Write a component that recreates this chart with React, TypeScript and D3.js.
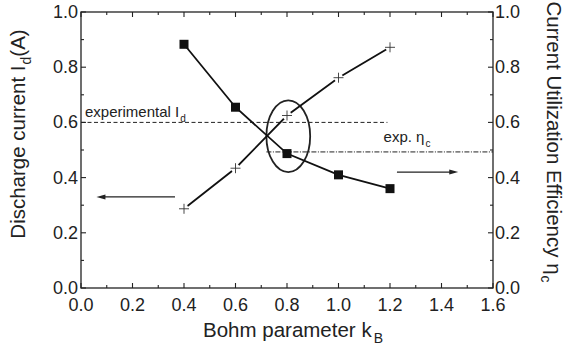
import React, { useRef, useEffect } from 'react';
import * as d3 from 'd3';

// Bohm parameter values
const kB = [0.4, 0.6, 0.8, 1.0, 1.2];
// discharge current Id (A), squares
const dischargeCurrent = [0.883, 0.655, 0.487, 0.41, 0.36];
// current utilization efficiency, crosses
const efficiency = [0.287, 0.434, 0.625, 0.762, 0.872];

const expId = 0.6;
const expEta = 0.493;

const xTicks = [0, 0.2, 0.4, 0.6, 0.8, 1.0, 1.2, 1.4, 1.6];
const yTicks = [0, 0.2, 0.4, 0.6, 0.8, 1.0];

const FONT = 'Arial, "Liberation Sans", Helvetica, sans-serif';

const App = () => {
  const svgRef = useRef<SVGSVGElement>(null);
  const W = 565;
  const H = 349;
  const margin = { top: 12, right: 72, bottom: 61, left: 81 };

  useEffect(() => {
    const svg = d3.select(svgRef.current);
    svg.selectAll('*').remove();

    const x = d3.scaleLinear().domain([0, 1.6]).range([margin.left, W - margin.right]);
    const y = d3.scaleLinear().domain([0, 1.0]).range([H - margin.bottom, margin.top]);

    const fmt = d3.format('.1f');
    const minorX = d3.range(0, 1.61, 0.1);
    const minorY = d3.range(0, 1.01, 0.1);

    // frame
    svg.append('rect')
      .attr('x', x(0)).attr('y', y(1))
      .attr('width', x(1.6) - x(0)).attr('height', y(0) - y(1))
      .attr('fill', 'none').attr('stroke', '#222').attr('stroke-width', 1.3);

    // ticks (inward, all four sides)
    const tk = svg.append('g').attr('stroke', '#222').attr('stroke-width', 1.1);
    minorX.forEach((v, i) => {
      const len = i % 2 === 0 ? 5 : 3;
      tk.append('line').attr('x1', x(v)).attr('x2', x(v)).attr('y1', y(0)).attr('y2', y(0) - len);
      tk.append('line').attr('x1', x(v)).attr('x2', x(v)).attr('y1', y(1)).attr('y2', y(1) + len);
    });
    minorY.forEach((v, i) => {
      const len = i % 2 === 0 ? 5 : 3;
      tk.append('line').attr('y1', y(v)).attr('y2', y(v)).attr('x1', x(0)).attr('x2', x(0) + len);
      tk.append('line').attr('y1', y(v)).attr('y2', y(v)).attr('x1', x(1.6)).attr('x2', x(1.6) - len);
    });

    // tick labels
    const lbl = svg.append('g').attr('font-family', FONT).attr('font-size', 18).attr('fill', '#222');
    xTicks.forEach(v => {
      lbl.append('text').attr('x', x(v)).attr('y', y(0) + 23).attr('text-anchor', 'middle').text(fmt(v));
    });
    yTicks.forEach(v => {
      lbl.append('text').attr('x', x(0) - 3).attr('y', y(v) + 6).attr('text-anchor', 'end').text(fmt(v));
      lbl.append('text').attr('x', x(1.6) + 2).attr('y', y(v) + 6).attr('text-anchor', 'start').text(fmt(v));
    });

    // axis titles
    const xt = svg.append('text').attr('font-family', FONT).attr('font-size', 20.5).attr('fill', '#222')
      .attr('x', x(0.8) + 6).attr('y', y(0) + 49).attr('text-anchor', 'middle');
    xt.append('tspan').text('Bohm parameter k');
    xt.append('tspan').attr('font-size', 14).attr('dx', 2).attr('dy', 6).text('B');

    const yl = svg.append('text').attr('font-family', FONT).attr('font-size', 20.5).attr('fill', '#222')
      .attr('transform', `translate(25, 134) rotate(-90)`).attr('text-anchor', 'middle');
    yl.append('tspan').text('Discharge current I');
    yl.append('tspan').attr('font-size', 14).attr('dx', 1).attr('dy', 6).text('d');
    yl.append('tspan').attr('dy', -6).text('(A)');

    const yr = svg.append('text').attr('font-family', FONT).attr('font-size', 20.5).attr('fill', '#222')
      .attr('transform', `translate(547, 142) rotate(90)`).attr('text-anchor', 'middle');
    yr.append('tspan').text('Current Utilization Efficiency η');
    yr.append('tspan').attr('font-size', 14).attr('dx', 1).attr('dy', 6).text('c');

    // experimental reference lines
    svg.append('line')
      .attr('x1', x(0)).attr('x2', x(1.19)).attr('y1', y(expId)).attr('y2', y(expId))
      .attr('stroke', '#222').attr('stroke-width', 1).attr('stroke-dasharray', '4,2.5');
    svg.append('line')
      .attr('x1', x(0.72)).attr('x2', x(1.6)).attr('y1', y(expEta)).attr('y2', y(expEta))
      .attr('stroke', '#222').attr('stroke-width', 1).attr('stroke-dasharray', '5,1.5,1,1.5');

    const t1 = svg.append('text').attr('font-family', FONT).attr('font-size', 15).attr('fill', '#222')
      .attr('x', x(0) + 4).attr('y', y(expId) - 5);
    t1.append('tspan').text('experimental I');
    t1.append('tspan').attr('font-size', 10).attr('dx', 1).attr('dy', 5).text('d');

    const t2 = svg.append('text').attr('font-family', FONT).attr('font-size', 15).attr('fill', '#222')
      .attr('x', x(1.175)).attr('y', y(expEta) - 10);
    t2.append('tspan').text('exp. η');
    t2.append('tspan').attr('font-size', 10).attr('dx', 1).attr('dy', 5).text('c');

    // ellipse around crossing
    svg.append('ellipse')
      .attr('cx', x(0.805)).attr('cy', y(0.55))
      .attr('rx', x(0.085) - x(0)).attr('ry', y(0) - y(0.13))
      .attr('fill', 'none').attr('stroke', '#222').attr('stroke-width', 1.8);

    // arrows
    const arrow = (xa: number, xb: number, yv: number) => {
      const x1 = x(xa), x2 = x(xb), yy = y(yv);
      const dir = Math.sign(x2 - x1);
      svg.append('line').attr('x1', x1).attr('x2', x2 - dir * 6).attr('y1', yy).attr('y2', yy)
        .attr('stroke', '#222').attr('stroke-width', 1.2);
      svg.append('path')
        .attr('d', `M${x2},${yy} L${x2 - dir * 9},${yy - 2.5} L${x2 - dir * 9},${yy + 2.5} Z`)
        .attr('fill', '#222');
    };
    arrow(0.365, 0.06, 0.33);
    arrow(1.227, 1.465, 0.42);

    // series
    const idPts = kB.map((k, i) => [k, dischargeCurrent[i]] as [number, number]);
    const etaPts = kB.map((k, i) => [k, efficiency[i]] as [number, number]);
    const line = d3.line<[number, number]>().x(d => x(d[0])).y(d => y(d[1]));

    svg.append('path').attr('d', line(idPts)).attr('fill', 'none').attr('stroke', '#111').attr('stroke-width', 1.8);
    svg.append('path').attr('d', line(etaPts)).attr('fill', 'none').attr('stroke', '#111').attr('stroke-width', 1.8);

    svg.selectAll('rect.sq').data(idPts).enter().append('rect')
      .attr('class', 'sq')
      .attr('x', d => x(d[0]) - 4.5).attr('y', d => y(d[1]) - 4.5)
      .attr('width', 9).attr('height', 9).attr('fill', '#111');

    const plus = svg.append('g');
    etaPts.forEach(d => {
      // white backing so the plus reads through the line
      plus.append('circle').attr('cx', x(d[0])).attr('cy', y(d[1])).attr('r', 4.5).attr('fill', '#fff');
      plus.append('path')
        .attr('d', `M${x(d[0]) - 5},${y(d[1])} H${x(d[0]) + 5} M${x(d[0])},${y(d[1]) - 5} V${y(d[1]) + 5}`)
        .attr('stroke', '#333').attr('stroke-width', 0.9);
    });
  }, []);

  return (
    <svg ref={svgRef} width={W} height={H} style={{ position: 'absolute', left: 0, top: 0, background: '#fff' }} />
  );
};

export default App;
